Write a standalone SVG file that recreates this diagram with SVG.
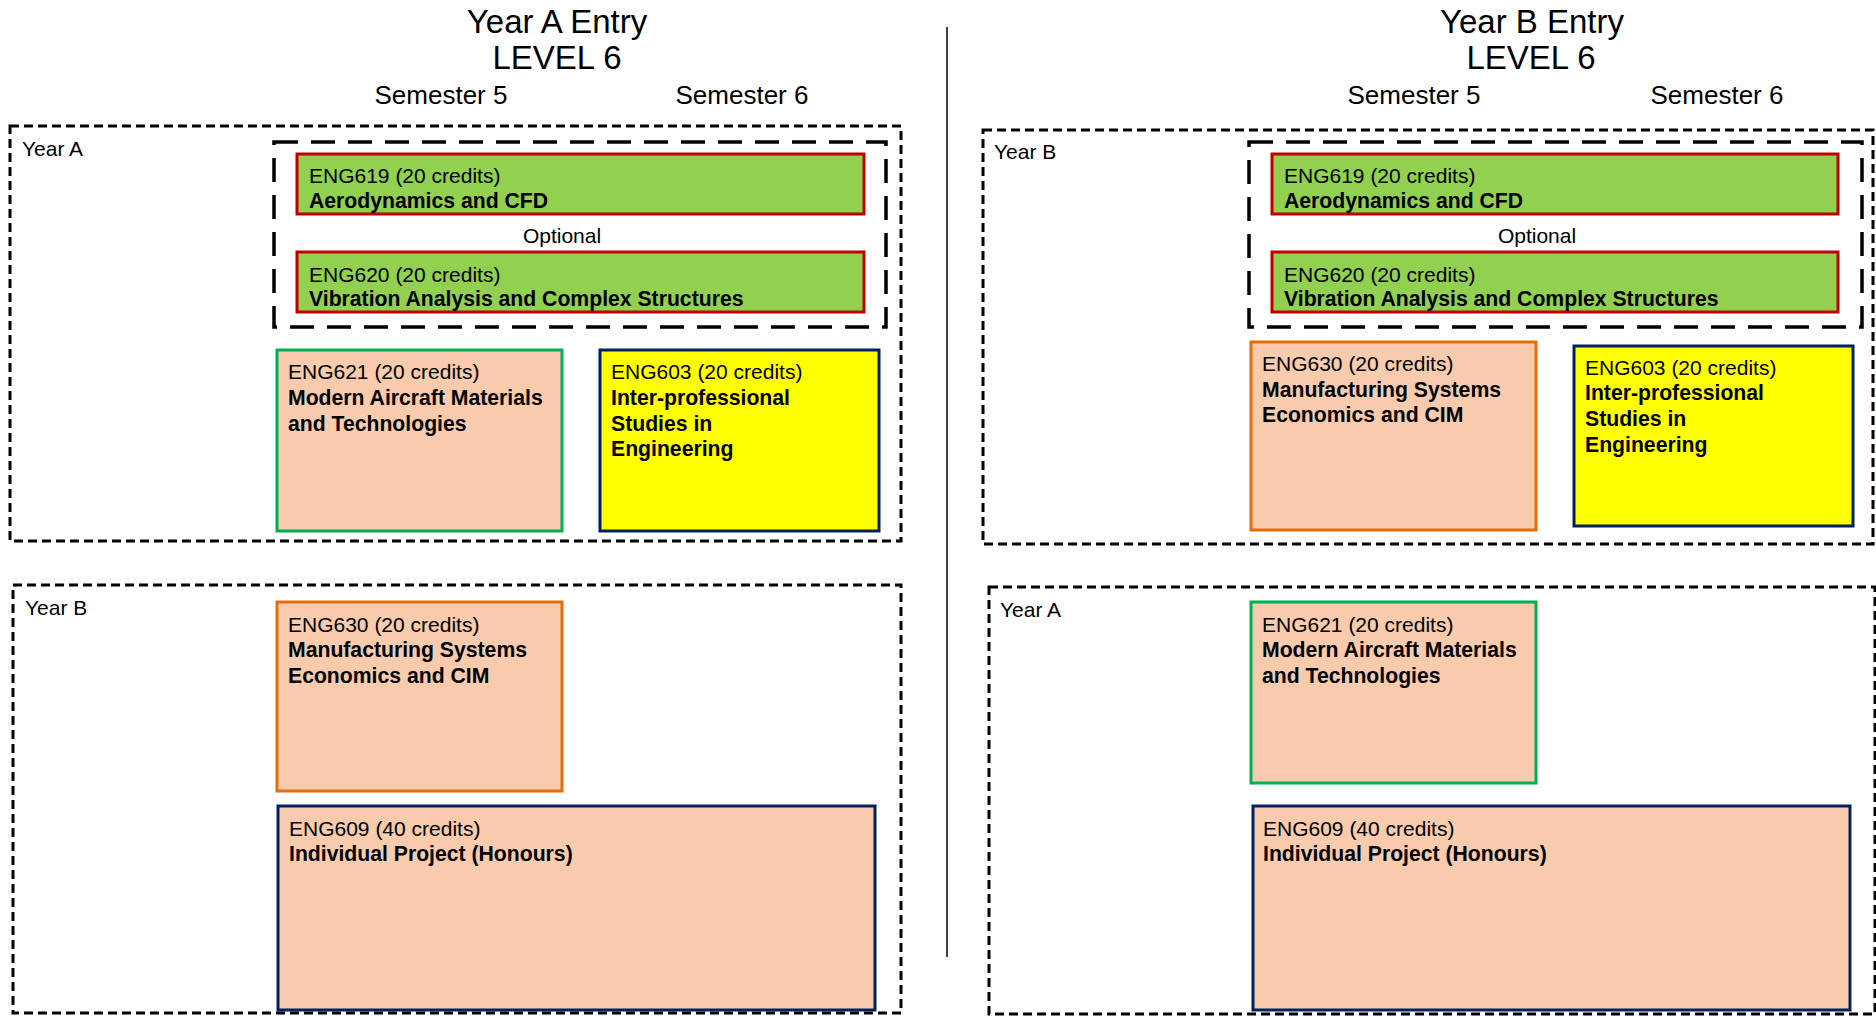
<svg xmlns="http://www.w3.org/2000/svg" width="1876" height="1016" viewBox="0 0 1876 1016">
<style>
text{font-family:"Liberation Sans",Arial,sans-serif;fill:#000}
.title{font-size:33px;text-anchor:middle}
.sem{font-size:26px;text-anchor:middle}
.lbl{font-size:21px}
.t{font-size:21px}
.b{font-size:21.2px;font-weight:bold}
.opt{font-size:21px;text-anchor:middle}
.outer{fill:none;stroke:#000;stroke-width:3;stroke-dasharray:9 5}
.inner{fill:none;stroke:#000;stroke-width:3.5;stroke-dasharray:24 13}
.green{fill:#92D050;stroke:#C00000;stroke-width:3}
.peachG{fill:#F8CBAD;stroke:#00B050;stroke-width:3}
.peachO{fill:#F8CBAD;stroke:#E46C0A;stroke-width:3}
.peachN{fill:#F8CBAD;stroke:#002060;stroke-width:3}
.yellow{fill:#FFFF00;stroke:#002060;stroke-width:3}
</style>
<rect width="1876" height="1016" fill="#fff"/>
<g id="headings">
<text class="title" x="557" y="33">Year A Entry</text>
<text class="title" x="557" y="69">LEVEL 6</text>
<text class="sem" x="441" y="104">Semester 5</text>
<text class="sem" x="742" y="104">Semester 6</text>
<text class="title" x="1532" y="33">Year B Entry</text>
<text class="title" x="1531" y="69">LEVEL 6</text>
<text class="sem" x="1414" y="104">Semester 5</text>
<text class="sem" x="1717" y="104">Semester 6</text>
</g>
<g id="connectors">
<line x1="947" y1="27" x2="947" y2="957" stroke="#000" stroke-width="1.5"/>
</g>
<g id="groupA-yearA">
<rect class="outer" x="10" y="126" width="891" height="415"/>
<text class="lbl" x="22" y="156">Year A</text>
</g>
<g id="groupA-optional">
<rect class="inner" x="274" y="142" width="612" height="185"/>
<text class="opt" x="562" y="243">Optional</text>
</g>
<g id="A-ENG619">
<rect class="green" x="297" y="154" width="567" height="60"/>
<text class="t" x="309" y="183">ENG619 (20 credits)</text>
<text class="b" x="309" y="208">Aerodynamics and CFD</text>
</g>
<g id="A-ENG620">
<rect class="green" x="297" y="252" width="567" height="60"/>
<text class="t" x="309" y="282">ENG620 (20 credits)</text>
<text class="b" x="309" y="306">Vibration Analysis and Complex Structures</text>
</g>
<g id="A-ENG621">
<rect class="peachG" x="277" y="350" width="285" height="181"/>
<text class="t" x="288" y="379">ENG621 (20 credits)</text>
<text class="b" x="288" y="405">Modern Aircraft Materials</text>
<text class="b" x="288" y="431">and Technologies</text>
</g>
<g id="A-ENG603">
<rect class="yellow" x="600" y="350" width="279" height="181"/>
<text class="t" x="611" y="379">ENG603 (20 credits)</text>
<text class="b" x="611" y="405">Inter-professional</text>
<text class="b" x="611" y="431">Studies in</text>
<text class="b" x="611" y="456">Engineering</text>
</g>
<g id="groupA-yearB">
<rect class="outer" x="13" y="585" width="888" height="428"/>
<text class="lbl" x="25" y="615">Year B</text>
</g>
<g id="A-ENG630">
<rect class="peachO" x="277" y="602" width="285" height="189"/>
<text class="t" x="288" y="632">ENG630 (20 credits)</text>
<text class="b" x="288" y="657">Manufacturing Systems</text>
<text class="b" x="288" y="683">Economics and CIM</text>
</g>
<g id="A-ENG609">
<rect class="peachN" x="278" y="806" width="597" height="204"/>
<text class="t" x="289" y="836">ENG609 (40 credits)</text>
<text class="b" x="289" y="861">Individual Project (Honours)</text>
</g>
<g id="groupB-yearB">
<rect class="outer" x="983" y="130" width="890" height="414"/>
<text class="lbl" x="994" y="159">Year B</text>
</g>
<g id="groupB-optional">
<rect class="inner" x="1249" y="142" width="613" height="185"/>
<text class="opt" x="1537" y="243">Optional</text>
</g>
<g id="B-ENG619">
<rect class="green" x="1272" y="154" width="566" height="60"/>
<text class="t" x="1284" y="183">ENG619 (20 credits)</text>
<text class="b" x="1284" y="208">Aerodynamics and CFD</text>
</g>
<g id="B-ENG620">
<rect class="green" x="1272" y="252" width="566" height="60"/>
<text class="t" x="1284" y="282">ENG620 (20 credits)</text>
<text class="b" x="1284" y="306">Vibration Analysis and Complex Structures</text>
</g>
<g id="B-ENG630">
<rect class="peachO" x="1251" y="342" width="285" height="188"/>
<text class="t" x="1262" y="371">ENG630 (20 credits)</text>
<text class="b" x="1262" y="397">Manufacturing Systems</text>
<text class="b" x="1262" y="422">Economics and CIM</text>
</g>
<g id="B-ENG603">
<rect class="yellow" x="1574" y="346" width="279" height="180"/>
<text class="t" x="1585" y="375">ENG603 (20 credits)</text>
<text class="b" x="1585" y="400">Inter-professional</text>
<text class="b" x="1585" y="426">Studies in</text>
<text class="b" x="1585" y="452">Engineering</text>
</g>
<g id="groupB-yearA">
<rect class="outer" x="989" y="587" width="886" height="427"/>
<text class="lbl" x="1000" y="617">Year A</text>
</g>
<g id="B-ENG621">
<rect class="peachG" x="1251" y="602" width="285" height="181"/>
<text class="t" x="1262" y="632">ENG621 (20 credits)</text>
<text class="b" x="1262" y="657">Modern Aircraft Materials</text>
<text class="b" x="1262" y="683">and Technologies</text>
</g>
<g id="B-ENG609">
<rect class="peachN" x="1253" y="806" width="597" height="204"/>
<text class="t" x="1263" y="836">ENG609 (40 credits)</text>
<text class="b" x="1263" y="861">Individual Project (Honours)</text>
</g>
</svg>
